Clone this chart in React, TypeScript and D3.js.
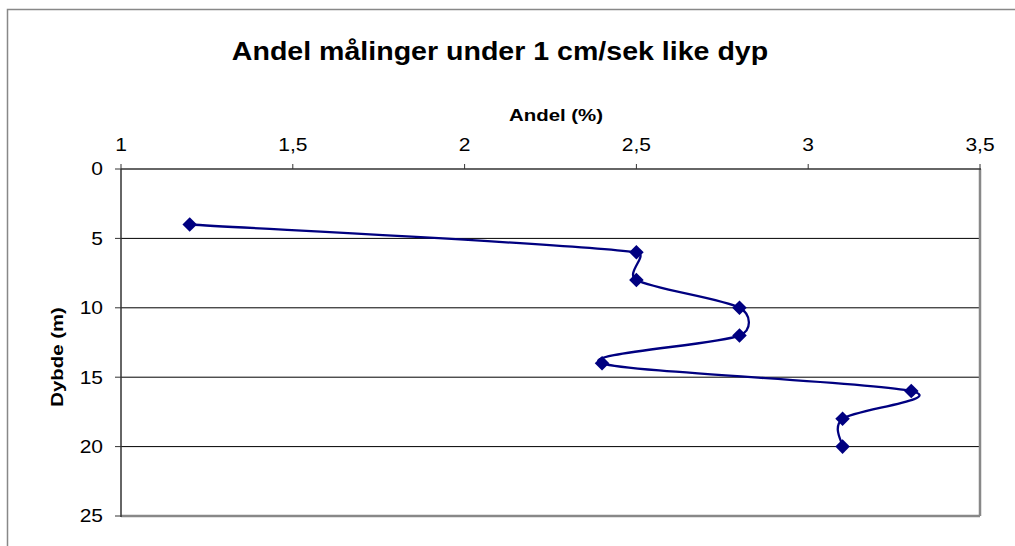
import React from "react";
import * as d3 from "d3";

const title = "Andel målinger under 1 cm/sek like dyp";
const xTitle = "Andel (%)";
const yTitle = "Dybde (m)";
const andel = [1.2, 2.5, 2.5, 2.8, 2.8, 2.4, 3.3, 3.1, 3.1];
const dybde = [4, 6, 8, 10, 12, 14, 16, 18, 20];
const xTicks = [1, 1.5, 2, 2.5, 3, 3.5];
const yTicks = [0, 5, 10, 15, 20, 25];

const W = 1015;
const H = 546;
const L = 121, R = 980, T = 169, B = 516;
const font = "'Liberation Sans', Arial, sans-serif";
const navy = "#000080";
const SX = 1.2;

type P = [number, number];

// Excel-like smooth line: cubic Bezier with 1/6 tangents capped at half segment length
function excelSmooth(pts: P[]): string {
  const path = d3.path();
  if (!pts.length) return "";
  path.moveTo(pts[0][0], pts[0][1]);
  const dist = (a: P, b: P) => Math.hypot(b[0] - a[0], b[1] - a[1]);
  for (let i = 0; i < pts.length - 1; i++) {
    const p0 = pts[Math.max(0, i - 1)];
    const p1 = pts[i];
    const p2 = pts[i + 1];
    const p3 = pts[Math.min(pts.length - 1, i + 2)];
    const d12 = dist(p1, p2);
    const d02 = dist(p0, p2);
    const d13 = dist(p1, p3);
    let f0 = 1 / 6, f1 = 1 / 6;
    if (d02 / 6 > d12 / 2 && d02 > 0) f0 = d12 / 2 / d02;
    if (d13 / 6 > d12 / 2 && d13 > 0) f1 = d12 / 2 / d13;
    const c1: P = [p1[0] + (p2[0] - p0[0]) * f0, p1[1] + (p2[1] - p0[1]) * f0];
    const c2: P = [p2[0] - (p3[0] - p1[0]) * f1, p2[1] - (p3[1] - p1[1]) * f1];
    path.bezierCurveTo(c1[0], c1[1], c2[0], c2[1], p2[0], p2[1]);
  }
  return path.toString();
}

export default function App() {
  const x = d3.scaleLinear().domain([1, 3.5]).range([L, R]);
  const y = d3.scaleLinear().domain([0, 25]).range([T, B]);
  const pts: P[] = andel.map((a, i) => [x(a), y(dybde[i])]);
  const line = excelSmooth(pts);
  const fmt = (v: number) => String(v).replace(".", ",");
  const diamond = d3.symbol().type(d3.symbolDiamond2).size(135)() || "";
  return (
    <svg width={W} height={H} style={{ position: "absolute", left: 0, top: 0, background: "#fff" }}>
      <rect x={0} y={0} width={W} height={H} fill="#fff" />
      <rect x={7.5} y={9.5} width={W + 10} height={H + 10} fill="none" stroke="#888" strokeWidth={1.5} />
      <text transform={`translate(500,59.5) scale(1.12,1)`} textAnchor="middle" fontFamily={font} fontWeight="bold" fontSize={25.5}>{title}</text>
      <text transform={`translate(556,121) scale(${SX},1)`} textAnchor="middle" fontFamily={font} fontWeight="bold" fontSize={17}>{xTitle}</text>
      <text transform={`translate(63,357) rotate(-90) scale(${SX},1)`} textAnchor="middle" fontFamily={font} fontWeight="bold" fontSize={17}>{yTitle}</text>
      {yTicks.filter(t => t > 0 && t < 25).map(t => (
        <line key={"g" + t} x1={L} x2={R} y1={y(t)} y2={y(t)} stroke="#000" strokeWidth={1} />
      ))}
      <line x1={R} x2={R} y1={T} y2={B} stroke="#888" strokeWidth={2.5} />
      <line x1={L} x2={R} y1={B} y2={B} stroke="#888" strokeWidth={2.5} />
      <line x1={L} x2={R + 1} y1={T} y2={T} stroke="#333" strokeWidth={1.5} />
      <line x1={L} x2={L} y1={T} y2={B + 1} stroke="#333" strokeWidth={1.5} />
      {xTicks.map(t => (
        <g key={"x" + t}>
          <line x1={x(t)} x2={x(t)} y1={T - 5} y2={T} stroke="#333" strokeWidth={1} />
          <text transform={`translate(${x(t)},151) scale(${SX},1)`} textAnchor="middle" fontFamily={font} fontSize={17.5}>{fmt(t)}</text>
        </g>
      ))}
      {yTicks.map(t => (
        <g key={"y" + t}>
          <line x1={L - 6} x2={L} y1={y(t)} y2={y(t)} stroke="#333" strokeWidth={1} />
          <text transform={`translate(103,${y(t)}) scale(${SX},1)`} dy="0.36em" textAnchor="end" fontFamily={font} fontSize={17.5}>{t}</text>
        </g>
      ))}
      <path d={line} fill="none" stroke={navy} strokeWidth={2.3} />
      {pts.map((p, i) => (
        <path key={"m" + i} d={diamond} transform={`translate(${p[0]},${p[1]})`} fill={navy} />
      ))}
    </svg>
  );
}
